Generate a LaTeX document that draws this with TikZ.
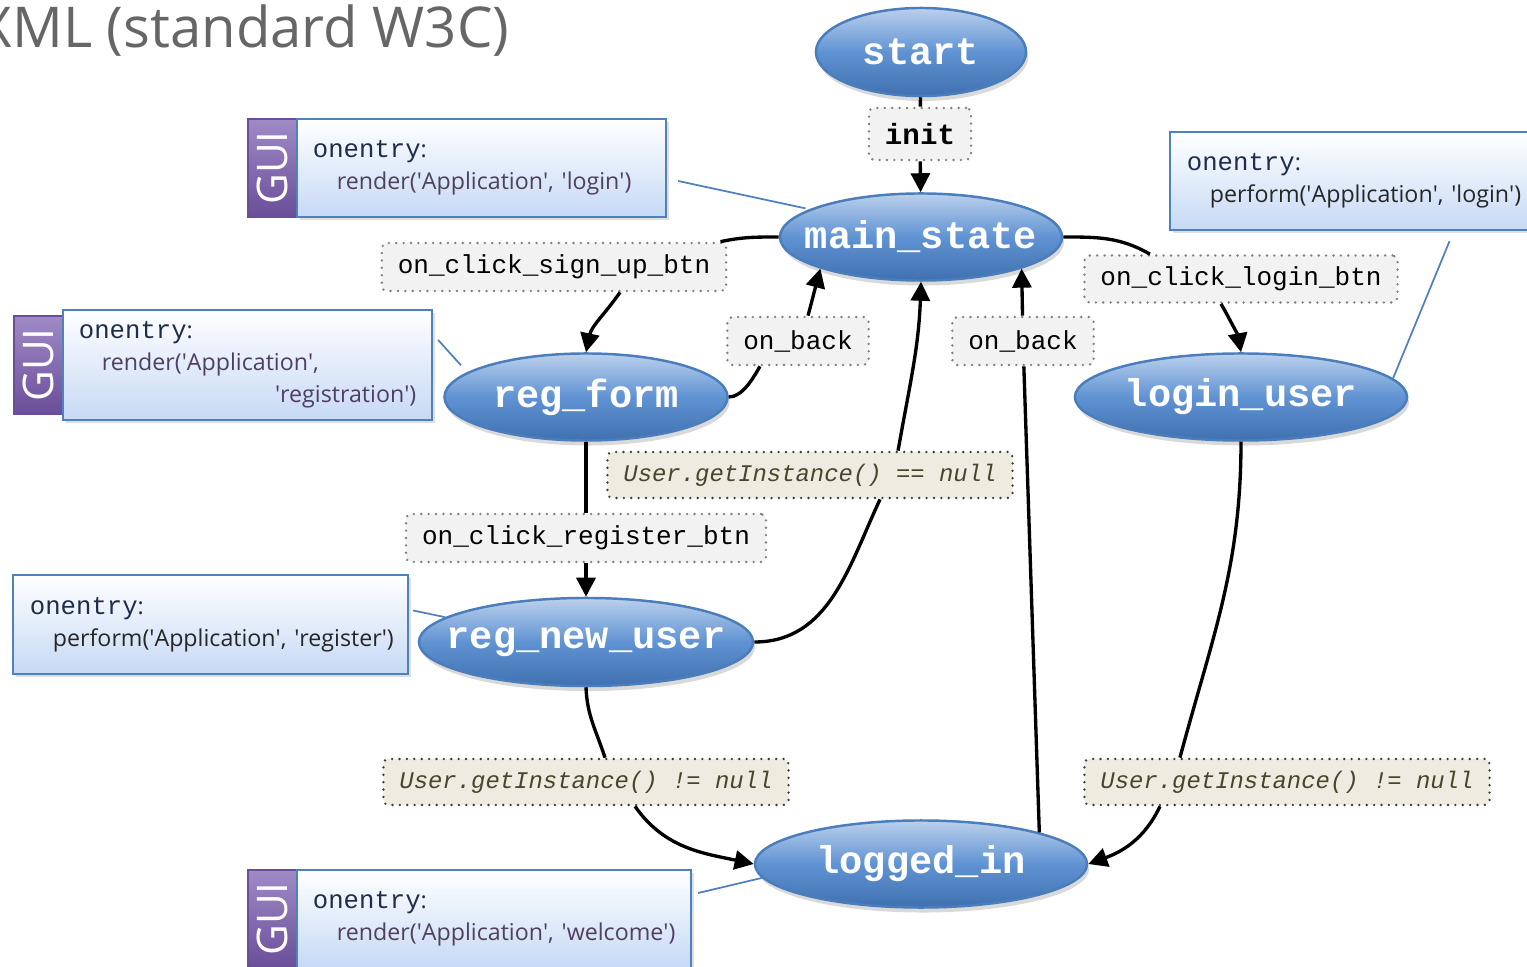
\documentclass[tikz,border=0pt]{standalone}
\usepackage{fontspec}
\newfontfamily\monofont{Liberation Mono}
\newfontfamily\notefont{Open Sans}
\usetikzlibrary{arrows.meta,shapes.geometric,shadows}

\definecolor{stTop}{HTML}{BBD0EC}
\definecolor{stMid}{HTML}{6093D3}
\definecolor{stBot}{HTML}{4070B0}
\definecolor{stLine}{HTML}{4A7DBB}
\definecolor{evFill}{HTML}{F2F2F2}
\definecolor{evDots}{HTML}{7F7F7F}
\definecolor{grFill}{HTML}{EEECE1}
\definecolor{grDots}{HTML}{3A3A3A}
\definecolor{grText}{HTML}{4A452A}
\definecolor{noteLine}{HTML}{4F81BD}
\definecolor{noteBot}{HTML}{C6D9F5}
\definecolor{entryText}{HTML}{1F2D4A}
\definecolor{guiText}{HTML}{4E3F63}
\definecolor{guiLight}{HTML}{A08AC6}
\definecolor{guiDark}{HTML}{6A4E99}
\definecolor{titleGray}{HTML}{666666}

\newcommand{\st}[1]{\makebox[0pt]{#1}}
\newcommand{\sq}{\textquotesingle}
\newcommand{\onentry}{\mbox{{\color{entryText}\fontsize{7.3}{9.1}\monofont onentry}{\color{entryText}:}}}
\newcommand{\entryline}[3]{\mbox{\color{#1}\hspace*{#2}#3}}

\tikzset{
  state/.style={ellipse, draw=stLine, line width=0.7pt, top color=stTop, bottom color=stBot, middle color=stMid,
    text=white, inner sep=0pt, font=\fontsize{11}{13}\monofont\bfseries,
    drop shadow={opacity=0.3,shadow xshift=0.02cm,shadow yshift=-0.05cm}},
  evlabel/.style={rectangle, rounded corners=0.05cm, fill=evFill, draw=evDots, line width=0.75pt,
    dash pattern=on 0pt off 2.1pt, line cap=round, inner xsep=0.16cm, inner ysep=0pt,
    minimum height=0.48cm, font=\fontsize{7.4}{9}\monofont},
  guard/.style={evlabel, fill=grFill, draw=grDots, text=grText, minimum height=0.46cm,
    font=\fontsize{6.8}{8}\monofont\itshape},
  trans/.style={line width=0.95pt},
  noteln/.style={noteLine, line width=0.5pt},
  note/.style={rectangle, draw=noteLine, line width=0.6pt, top color=white, bottom color=noteBot,
    align=left, inner xsep=0.16cm, font=\fontsize{6.6}{9.1}\notefont,
    drop shadow={opacity=0.25,shadow xshift=0.03cm,shadow yshift=-0.03cm}},
  guitab/.style={rectangle, draw=guiDark, line width=0.5pt, top color=guiLight, bottom color=guiDark,
    rotate=90, text=white, font=\fontsize{12}{12}\notefont, inner sep=0pt,
    minimum width=0.98cm, minimum height=0.49cm}
}

\begin{document}
\begin{tikzpicture}[x=0.01cm,y=-0.01cm,>={Triangle[length=0.19cm,width=0.19cm]}]
\useasboundingbox (0,0) rectangle (1527,967);

\node[anchor=base east, font=\fontsize{16}{16}\notefont, text=titleGray, inner sep=0pt] (title) at (510,48) {XML (standard W3C)};

% states
\node[state, minimum width=2.10cm, minimum height=0.88cm] (start) at (921,52) {\st{start}};
\node[state, minimum width=2.82cm, minimum height=0.87cm] (main) at (921,237) {\st{main\_state}};
\node[state, minimum width=2.83cm, minimum height=0.87cm] (regform) at (586,397) {\st{reg\_form}};
\node[state, minimum width=3.32cm, minimum height=0.87cm] (loginuser) at (1241,397) {\st{login\_user}};
\node[state, minimum width=3.34cm, minimum height=0.88cm] (regnew) at (586,642) {\st{reg\_new\_user}};
\node[state, minimum width=3.32cm, minimum height=0.87cm] (logged) at (921,864) {\st{logged\_in}};

% transition labels
\node[evlabel, minimum height=0.52cm] (init) at (920,134) {\bfseries\fontsize{8.3}{10}\selectfont init};
\node[evlabel] (signup) at (554,267) {on\_click\_sign\_up\_btn};
\node[evlabel] (backL) at (798,341) {on\_back};
\node[evlabel] (backR) at (1023,341) {on\_back};
\node[evlabel, minimum height=0.47cm] (loginbtn) at (1241,279) {on\_click\_login\_btn};
\node[evlabel] (register) at (586,538) {on\_click\_register\_btn};
\node[guard] (guardNull) at (810,475) {User.getInstance() == null};
\node[guard] (guardL) at (586,782) {User.getInstance() != null};
\node[guard] (guardR) at (1287,782) {User.getInstance() != null};

% transitions
\draw[trans] (start) -- (init);
\draw[trans,->] (init) -- (main);
\draw[trans] (main.west) to[out=180,in=12] ([xshift=-0.07cm]signup.north east);
\draw[trans,->] ([xshift=0.66cm]signup.south) to[out=235,in=78] (regform.north);
\draw[trans] (regform.east) to[out=0,in=240,looseness=0.8] ([xshift=-0.38cm]backL.south);
\draw[trans,->] ([xshift=0.1cm]backL.north) to[out=75,in=255,looseness=0.7] (main.south west);
\draw[trans] (regform.south) -- (register);
\draw[trans,->] (register) -- (regnew.north);
\draw[trans] (regnew.east) to[out=0,in=245] ([xshift=0.7cm]guardNull.south);
\draw[trans,->] ([xshift=0.88cm]guardNull.north) to[out=80,in=268] (main.south);
\draw[trans] (regnew.south) to[out=272,in=108] ([xshift=0.19cm]guardL.north);
\draw[trans,->] ([xshift=0.49cm]guardL.south) to[out=305,in=168] (logged.west);
\draw[trans] (logged.north east) -- (backR);
\draw[trans,->] (backR) -- (main.south east);
\draw[trans] (main.east) to[out=0,in=150] ([xshift=-0.91cm]loginbtn.north);
\draw[trans,->] ([xshift=-0.2cm]loginbtn.south) to[out=300,in=100,looseness=0.8] (loginuser.north);
\draw[trans] (loginuser.south) to[out=270,in=75] ([xshift=-1.07cm]guardR.north);
\draw[trans,->] ([xshift=-1.27cm]guardR.south) to[out=245,in=20] (logged.east);

% onentry notes
\node[guitab] (gui1) at (272.5,168) {GUI};
\node[note, minimum width=3.69cm, minimum height=0.98cm, text width=3.37cm] (note1) at (481.5,168)
  {\onentry\\\entryline{guiText}{0.24cm}{render(\sq Application\sq, \sq login\sq)}};
\node[guitab] (gui2) at (38.5,365) {GUI};
\node[note, minimum width=3.69cm, minimum height=0.98cm, text width=3.37cm] (note2) at (247.5,365)
  {\onentry\\\entryline{guiText}{0.23cm}{render(\sq Application\sq,}\\\entryline{guiText}{1.96cm}{\sq registration\sq)}};
\node[note, minimum width=3.95cm, minimum height=0.99cm, text width=3.61cm] (note3) at (210.5,624.5)
  {\onentry\\\entryline{black!85}{0.23cm}{perform(\sq Application\sq, \sq register\sq)}};
\node[note, minimum width=3.75cm, minimum height=0.98cm, text width=3.41cm] (note4) at (1357.5,181)
  {\onentry\\\entryline{black!85}{0.23cm}{perform(\sq Application\sq, \sq login\sq)}};
\node[guitab] (gui5) at (272.5,919) {GUI};
\node[note, minimum width=3.94cm, minimum height=0.98cm, text width=3.62cm] (note5) at (494,919)
  {\onentry\\\entryline{guiText}{0.24cm}{render(\sq Application\sq, \sq welcome\sq)}};

\draw[noteln] ([xshift=0.11cm,yshift=-0.13cm]note1.east) -- ([xshift=-0.15cm,yshift=-0.03cm]main.north west);
\draw[noteln] ([xshift=0.05cm,yshift=0.25cm]note2.east) -- ([xshift=-0.24cm]regform.north west);
\draw[noteln] ([xshift=0.04cm,yshift=0.14cm]note3.east) -- (regnew.170);
\draw[noteln] ([xshift=0.92cm,yshift=-0.1cm]note4.south) -- (loginuser.7);
\draw[noteln] ([xshift=0.06cm,yshift=0.26cm]note5.east) -- (logged.185);
\end{tikzpicture}
\end{document}
